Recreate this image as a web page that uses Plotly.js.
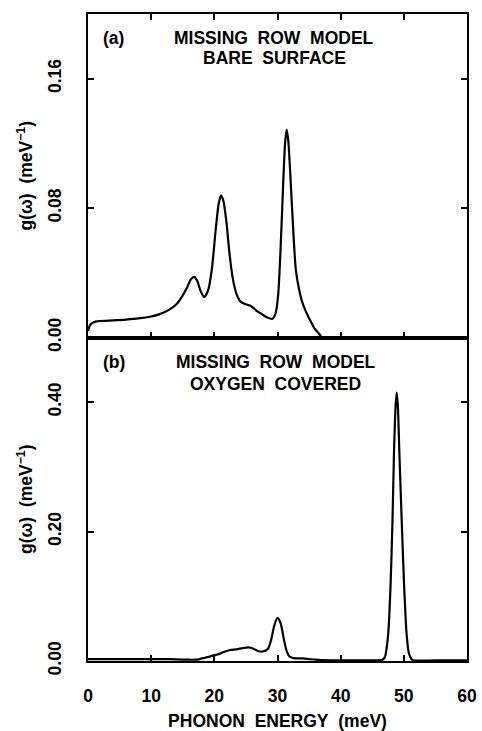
<!DOCTYPE html>
<html>
<head>
<meta charset="utf-8">
<script src="https://cdn.plot.ly/plotly-3.0.1.min.js"></script>
<style>html,body{margin:0;padding:0;background:#fff;}#chart{width:482px;height:731px;}</style>
</head>
<body>
<div id="chart"></div>
<script>
// (a) bare surface
const bareEnergy = [0, 0.3, 0.7, 1.2, 2, 4, 6, 8, 10, 11, 12, 13, 14, 15, 15.7, 16.3, 16.8, 17.3, 17.8, 18.4, 19, 19.6, 20.2, 20.7, 21.05, 21.4, 21.9, 22.4, 22.9, 23.5, 24.2, 25, 25.9, 26.7, 27.5, 28.3, 29.2, 29.7, 30.1, 30.5, 30.9, 31.2, 31.45, 31.7, 32, 32.4, 32.9, 33.4, 33.9, 34.5, 35.1, 35.8, 36.6, 36.9];
const bareDOS = [0.004, 0.0075, 0.009, 0.0098, 0.0102, 0.0106, 0.0111, 0.0118, 0.013, 0.014, 0.0155, 0.0175, 0.0205, 0.026, 0.031, 0.036, 0.0375, 0.035, 0.029, 0.025, 0.029, 0.042, 0.066, 0.083, 0.0877, 0.085, 0.072, 0.052, 0.037, 0.027, 0.022, 0.0205, 0.0192, 0.0165, 0.0145, 0.0125, 0.0116, 0.015, 0.026, 0.056, 0.095, 0.120, 0.1285, 0.122, 0.103, 0.073, 0.042, 0.030, 0.022, 0.016, 0.0111, 0.006, 0.0022, 0.0008];

// (b) oxygen covered
const oxyEnergy = [0, 2, 5, 8, 10, 12, 14, 16, 17, 17.7, 18.5, 19.3, 20.1, 20.8, 21.5, 22.5, 23.5, 24.5, 25.4, 26.2, 27, 27.8, 28.5, 29, 29.5, 30, 30.5, 31, 31.4, 31.8, 32.3, 33, 34, 35, 36, 37, 40, 45, 46.6, 47, 47.3, 47.55, 47.9, 48.2, 48.45, 48.7, 48.87, 49.05, 49.3, 49.65, 50.05, 50.45, 50.8, 51.2, 51.5, 55, 60];
const oxyDOS = [0.003, 0.003, 0.003, 0.003, 0.003, 0.003, 0.0025, 0.002, 0.002, 0.003, 0.005, 0.007, 0.009, 0.011, 0.014, 0.017, 0.018, 0.020, 0.021, 0.019, 0.015, 0.015, 0.019, 0.033, 0.055, 0.0666, 0.058, 0.034, 0.017, 0.008, 0.005, 0.004, 0.004, 0.003, 0.002, 0.0015, 0.001, 0.001, 0.002, 0.006, 0.022, 0.045, 0.118, 0.215, 0.325, 0.395, 0.415, 0.395, 0.320, 0.221, 0.115, 0.040, 0.012, 0.003, 0.001, 0.001, 0.001];

const xTickVals = [0, 10, 20, 30, 40, 50, 60];
const topYTicks = [0, 0.08, 0.16];
const botYTicks = [0, 0.2, 0.4];
const panelA = ["(a)", "MISSING\u00a0 ROW\u00a0 MODEL", "BARE\u00a0 SURFACE"];
const panelB = ["(b)", "MISSING\u00a0 ROW\u00a0 MODEL", "OXYGEN\u00a0 COVERED"];
const xTitle = "PHONON\u00a0 ENERGY\u00a0 (meV)";
const yTitle = "g(\u03c9)\u00a0 (meV<sup>\u22121</sup>)";

const FONT = "Liberation Sans, Arial, sans-serif";
const FSIZE = 17.5;
const textFont = {family: FONT, size: FSIZE, color: "#000", weight: "bold"};
const lineStyle = {color: "#000", width: 2.2, shape: "spline", smoothing: 0.7};

const traces = [
  {x: bareEnergy, y: bareDOS, xaxis: "x2", yaxis: "y2", mode: "lines", line: lineStyle, hoverinfo: "skip"},
  {x: oxyEnergy, y: oxyDOS, xaxis: "x", yaxis: "y", mode: "lines", line: lineStyle, hoverinfo: "skip"}
];

const common = {
  showgrid: false, zeroline: false, showline: true, linecolor: "#000", linewidth: 2,
  ticks: "inside", ticklen: 6, tickwidth: 2, tickcolor: "#000",
  tickfont: textFont
};

const layout = {
  width: 482, height: 731,
  margin: {l: 88, r: 15, t: 14, b: 70},
  paper_bgcolor: "#fff", plot_bgcolor: "#fff",
  showlegend: false,
  font: textFont,
  xaxis: Object.assign({}, common, {
    domain: [0, 1], anchor: "y", range: [0, 60], tickvals: xTickVals,
    mirror: true, ticklabelstandoff: 18,
    title: {text: xTitle, font: textFont, standoff: 13}
  }),
  yaxis: Object.assign({}, common, {
    domain: [0, 0.5], anchor: "x", range: [0, 0.5], tickvals: botYTicks, tickformat: ".2f",
    mirror: "ticks", tickangle: -90, ticklabelstandoff: 18,
    title: {text: yTitle, font: textFont, standoff: 8}
  }),
  xaxis2: Object.assign({}, common, {
    domain: [0, 1], anchor: "y2", range: [0, 60], tickvals: xTickVals, matches: "x",
    mirror: "ticks", showticklabels: false
  }),
  yaxis2: Object.assign({}, common, {
    domain: [0.5, 1], anchor: "x2", range: [0, 0.2], tickvals: topYTicks, tickformat: ".2f",
    mirror: "ticks", tickangle: -90, ticklabelstandoff: 18,
    title: {text: yTitle, font: textFont, standoff: 8}
  }),
  annotations: [
    {text: panelA[0], xref: "paper", yref: "paper", x: 0.0673, y: 0.9629, showarrow: false, xanchor: "center", yanchor: "middle"},
    {text: panelA[1], xref: "paper", yref: "paper", x: 0.492, y: 0.9629, showarrow: false, xanchor: "center", yanchor: "middle"},
    {text: panelA[2], xref: "paper", yref: "paper", x: 0.492, y: 0.9320, showarrow: false, xanchor: "center", yanchor: "middle"},
    {text: panelB[0], xref: "paper", yref: "paper", x: 0.0673, y: 0.4614, showarrow: false, xanchor: "center", yanchor: "middle"},
    {text: panelB[1], xref: "paper", yref: "paper", x: 0.496, y: 0.4614, showarrow: false, xanchor: "center", yanchor: "middle"},
    {text: panelB[2], xref: "paper", yref: "paper", x: 0.496, y: 0.4281, showarrow: false, xanchor: "center", yanchor: "middle"}
  ]
};

Plotly.newPlot("chart", traces, layout, {staticPlot: true, displayModeBar: false});
</script>
</body>
</html>
